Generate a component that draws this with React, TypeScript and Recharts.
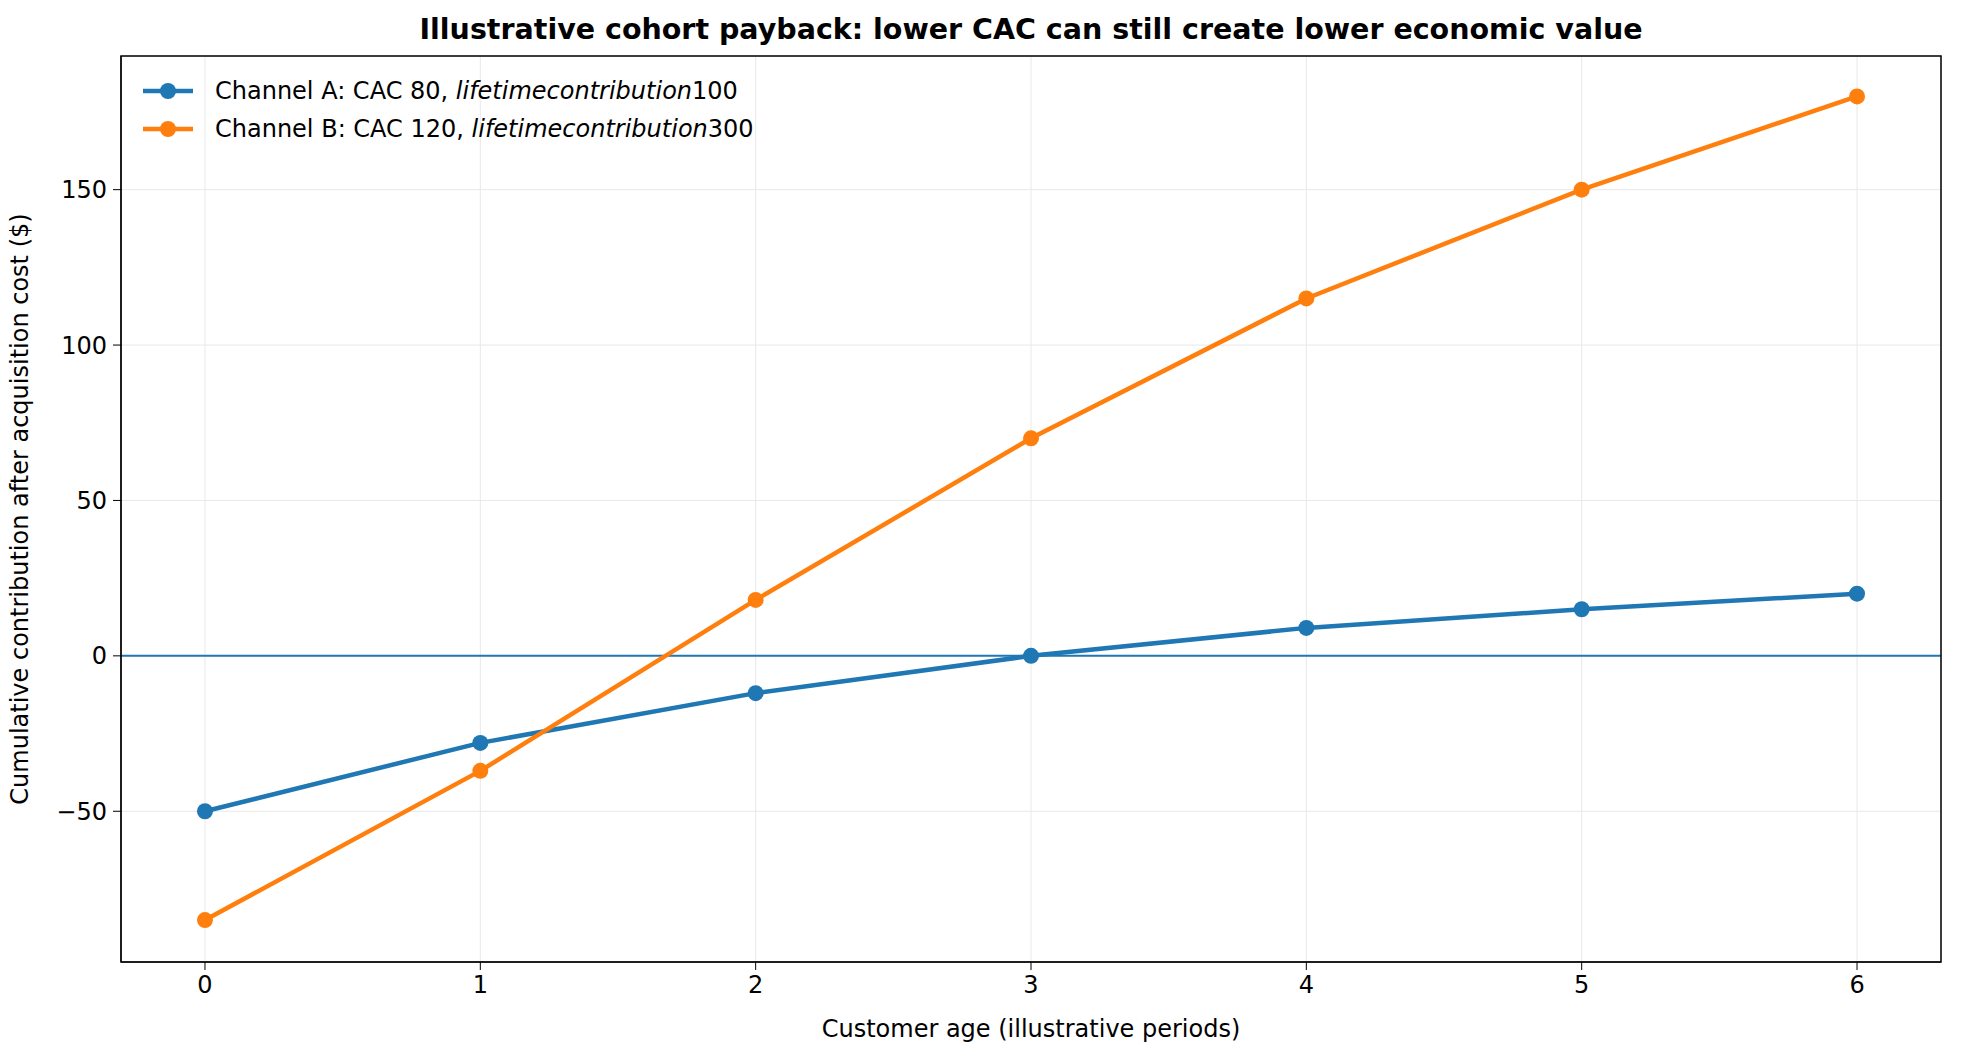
import React from "react";
import { LineChart, Line, XAxis, YAxis, CartesianGrid, ReferenceLine } from "recharts";

const ages = [0, 1, 2, 3, 4, 5, 6];
const channelA = [-50, -28, -12, 0, 9, 15, 20];
const channelB = [-85, -37, 18, 70, 115, 150, 180];
const xTicks = [0, 1, 2, 3, 4, 5, 6];
const yTicks = [-50, 0, 50, 100, 150];

const data = ages.map((age, i) => ({ age, a: channelA[i], b: channelB[i] }));

const FONT = "DejaVu Sans, sans-serif";
const FS = 24;

const legendItems = [
  { color: "#1f77b4", pre: "Channel A: CAC 80, ", it: "lifetimecontribution", post: "100" },
  { color: "#ff7f0e", pre: "Channel B: CAC 120, ", it: "lifetimecontribution", post: "300" },
];

function LegendBox() {
  return (
    <div style={{ position: "absolute", left: 143, top: 72, fontFamily: FONT, fontSize: FS, color: "#000" }}>
      {legendItems.map((l) => (
        <div key={l.post} style={{ display: "flex", alignItems: "center", height: 38 }}>
          <svg width={50} height={20} style={{ marginRight: 22 }}>
            <line x1={0} y1={10} x2={50} y2={10} stroke={l.color} strokeWidth={4.5} />
            <circle cx={25} cy={10} r={8} fill={l.color} />
          </svg>
          <span>
            {l.pre}
            <i>{l.it}</i>
            {l.post}
          </span>
        </div>
      ))}
    </div>
  );
}

export default function App() {
  return (
    <div style={{ margin: -8, width: 1961, height: 1057, background: "#fff", position: "relative" }}>
      <div
        style={{
          position: "absolute",
          top: 13,
          left: 121,
          width: 1820,
          textAlign: "center",
          fontFamily: FONT,
          fontWeight: "bold",
          fontSize: 28.5,
        }}
      >
        Illustrative cohort payback: lower CAC can still create lower economic value
      </div>
      <LineChart width={1961} height={1057} data={data} margin={{ top: 56, right: 20, bottom: 20, left: 41 }}>
        <CartesianGrid stroke="#e8e8e8" strokeWidth={1} />
        <XAxis
          dataKey="age"
          type="number"
          domain={[-0.305, 6.305]}
          ticks={xTicks}
          height={75}
          tick={{ fontFamily: FONT, fontSize: FS, fill: "#000" }}
          tickSize={8}
          tickMargin={6}
          stroke="#000"
          label={{ value: "Customer age (illustrative periods)", position: "insideBottom", offset: 0, style: { fontFamily: FONT, fontSize: FS, fill: "#000" } }}
        />
        <YAxis
          type="number"
          domain={[-98.5, 193]}
          ticks={yTicks}
          width={80}
          allowDataOverflow
          tick={{ fontFamily: FONT, fontSize: FS, fill: "#000" }}
          tickFormatter={(v) => (v < 0 ? `\u2212${Math.abs(v)}` : `${v}`)}
          tickSize={8}
          tickMargin={6}
          stroke="#000"
          label={{ value: "Cumulative contribution after acquisition cost ($)", angle: -90, position: "insideLeft", offset: -22, style: { fontFamily: FONT, fontSize: FS, fill: "#000", textAnchor: "middle" } }}
        />
        <ReferenceLine y={0} stroke="#1f77b4" strokeWidth={2} />
        <Line dataKey="a" stroke="#1f77b4" strokeWidth={4.5} dot={{ r: 8, fill: "#1f77b4", stroke: "#1f77b4", strokeWidth: 0 }} activeDot={false} isAnimationActive={false} />
        <Line dataKey="b" stroke="#ff7f0e" strokeWidth={4.5} dot={{ r: 8, fill: "#ff7f0e", stroke: "#ff7f0e", strokeWidth: 0 }} activeDot={false} isAnimationActive={false} />
      </LineChart>
      <LegendBox />
      <svg style={{ position: "absolute", left: 0, top: 0, pointerEvents: "none" }} width={1961} height={1057}>
        <rect x={121} y={56} width={1820} height={906} fill="none" stroke="#000" strokeWidth={1.5} />
      </svg>
    </div>
  );
}
